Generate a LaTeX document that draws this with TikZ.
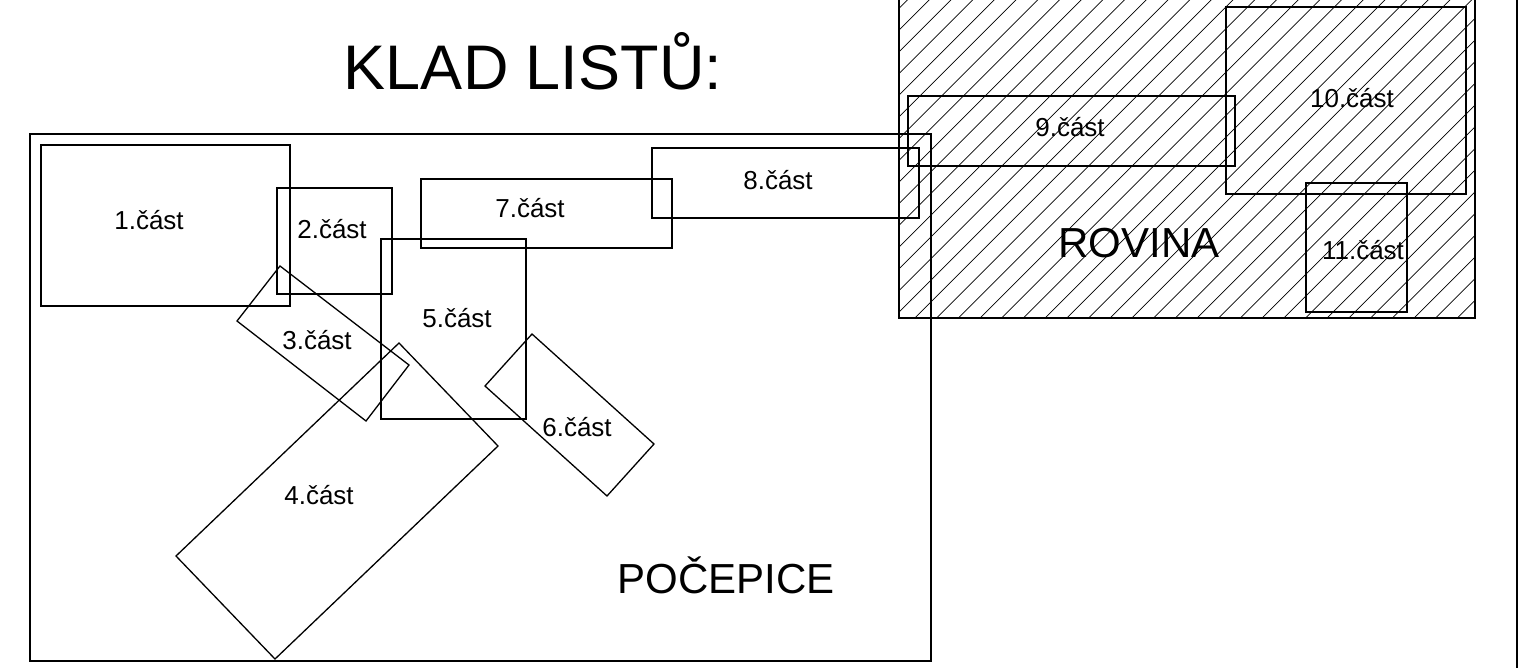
\documentclass[tikz,border=0pt]{standalone}
\usepackage{fontspec}
\setmainfont{Liberation Sans}
\usetikzlibrary{positioning}

\tikzset{
  part/.style={draw, line width=1.3pt, line join=miter},
  frame/.style={draw, line width=1.6pt},
  partlabel/.style={anchor=base, inner sep=0, font=\fontsize{26}{30}\selectfont},
  bigtext/.style={anchor=base, inner sep=0, font=\fontsize{42}{50}\selectfont},
  hatchline/.style={line width=0.7pt},
}

\begin{document}
\begin{tikzpicture}[x=1pt, y=-1pt]
\useasboundingbox (0,0) rectangle (1536,667);

% rovina - srafovana plocha
\begin{scope}
  \clip (899,-5) rectangle (1475,318);
  \foreach \i in {0,...,42}
    \draw[hatchline] ({567.7+\i*21.7},318) -- ++(340,-340);
\end{scope}
\draw[frame] (899,-5) rectangle (1475,318);
\draw[frame] (1517,-5) -- (1517,672);

% pocepice
\draw[frame] (30,134) rectangle (931,661);

% casti
\draw[part] (41,145) rectangle (290,306);
\draw[part] (277,188) rectangle (392,294);
\draw[part] (280,266) -- (409,365) -- (366,421) -- (237,321) -- cycle;
\draw[part] (399,343) -- (498,446) -- (275,659) -- (176,556) -- cycle;
\draw[part] (381,239) rectangle (526,419);
\draw[part] (532,334) -- (654,444) -- (607,496) -- (485,386) -- cycle;
\draw[part] (421,179) rectangle (672,248);
\draw[part] (652,148) rectangle (919,218);
\draw[part] (908,96) rectangle (1235,166);
\draw[part] (1226,7) rectangle (1466,194);
\draw[part] (1306,183) rectangle (1407,312);

% popisky
\node[partlabel] (l1) at (149,229) {1.část};
\node[partlabel] (l2) at (332,238) {2.část};
\node[partlabel] (l3) at (317,349) {3.část};
\node[partlabel] (l4) at (319,504) {4.část};
\node[partlabel] (l5) at (457,327) {5.část};
\node[partlabel] (l6) at (577,436) {6.část};
\node[partlabel] (l7) at (530,217) {7.část};
\node[partlabel] (l8) at (778,189) {8.část};
\node[partlabel] (l9) at (1070,136) {9.část};
\node[partlabel] (l10) at (1352,107) {10.část};
\node[partlabel] (l11) at (1363,259) {11.část};

\node[anchor=base, inner sep=0, font=\fontsize{63}{70}\selectfont] (title) at (533,89) {KLAD LISTŮ:};
\node[bigtext] (pocepice) at (726,593) {POČEPICE};
\node[bigtext] (rovina) at (1139,257) {ROVINA};
\end{tikzpicture}
\end{document}
